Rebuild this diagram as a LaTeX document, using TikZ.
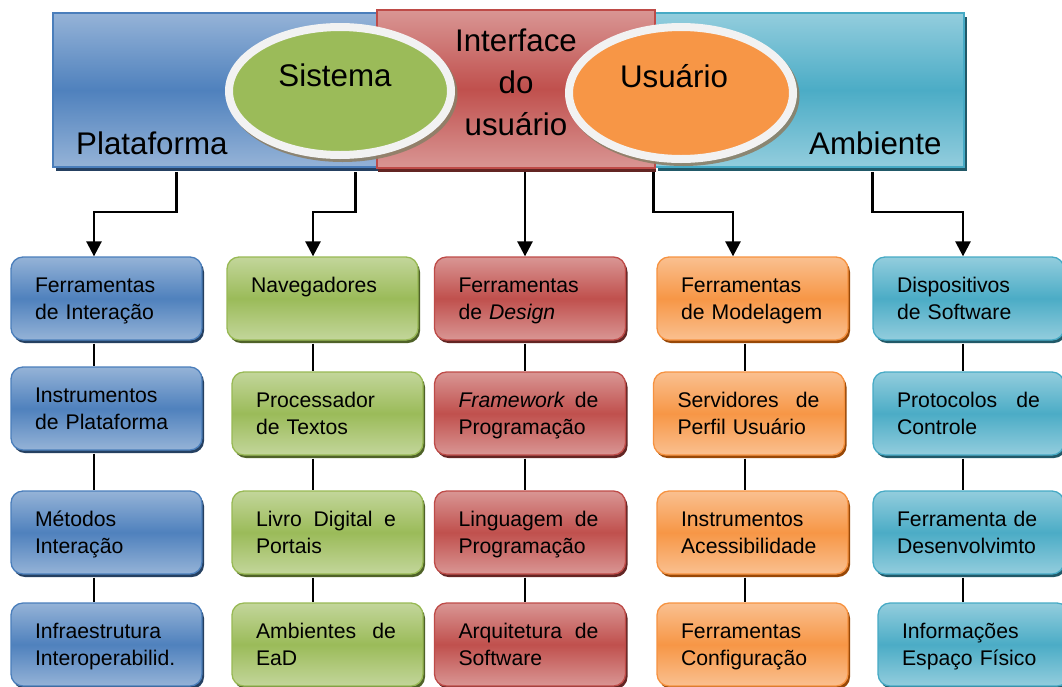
\documentclass[tikz,border=0pt]{standalone}
\usepackage{fontspec}
\setmainfont{Liberation Sans}
\usetikzlibrary{shapes.geometric,shadows,arrows.meta}
\definecolor{blueL}{HTML}{95B3D7}\definecolor{blueM}{HTML}{4F81BD}\definecolor{blueB}{HTML}{4A7EBB}\definecolor{blueS}{HTML}{254061}
\definecolor{greenL}{HTML}{C3D69B}\definecolor{greenM}{HTML}{9BBB59}\definecolor{greenB}{HTML}{98B954}\definecolor{greenS}{HTML}{4F6228}
\definecolor{redL}{HTML}{D99694}\definecolor{redM}{HTML}{C0504D}\definecolor{redB}{HTML}{BE4B48}\definecolor{redS}{HTML}{632523}
\definecolor{orangeL}{HTML}{FAC090}\definecolor{orangeM}{HTML}{F79646}\definecolor{orangeB}{HTML}{F69240}\definecolor{orangeS}{HTML}{984807}
\definecolor{tealL}{HTML}{93CDDD}\definecolor{tealM}{HTML}{4BACC6}\definecolor{tealB}{HTML}{46AAC5}\definecolor{tealS}{HTML}{215968}
\definecolor{ringW}{HTML}{F2F2F2}\definecolor{ellS}{HTML}{8C8068}
\newcommand{\myTop}{\rule{0pt}{19pt}}
\newcommand{\myBot}{\rule[-4.5pt]{0pt}{4.5pt}}
\newcommand{\jl}[1]{\makebox[#1]}
\begin{document}
\begin{tikzpicture}[x=1pt,y=-1pt,
  banner/.style={rectangle,line width=1.5pt,inner sep=0pt},
  bigtext/.style={font=\fontsize{31.3pt}{42pt}\selectfont,inner sep=0pt,text=black},
  oval/.style={ellipse,draw=ringW,line width=8pt,inner sep=0pt,
     drop shadow={shadow xshift=2.5pt,shadow yshift=-3pt,fill=ellS,draw=ellS,line width=8pt,opacity=0.9}},
  box/.style={rectangle,rounded corners=12pt,minimum width=191pt,minimum height=83pt,inner sep=0pt,
     text width=143pt,align=left,line width=1.3pt,font=\fontsize{21.2pt}{27.5pt}\selectfont,
     execute at begin node=\myTop, execute at end node=\myBot},
  bbox/.style={box,draw=blueB,top color=blueL,bottom color=blueL,middle color=blueM,
     drop shadow={shadow xshift=2pt,shadow yshift=-3pt,fill=blueS,opacity=1}},
  gbox/.style={box,draw=greenB,top color=greenL,bottom color=greenL,middle color=greenM,
     drop shadow={shadow xshift=2pt,shadow yshift=-3pt,fill=greenS,opacity=1}},
  rbox/.style={box,draw=redB,top color=redL,bottom color=redL,middle color=redM,
     drop shadow={shadow xshift=2pt,shadow yshift=-3pt,fill=redS,opacity=1}},
  obox/.style={box,draw=orangeB,top color=orangeL,bottom color=orangeL,middle color=orangeM,
     drop shadow={shadow xshift=2pt,shadow yshift=-3pt,fill=orangeS,opacity=1}},
  tbox/.style={box,draw=tealB,top color=tealL,bottom color=tealL,middle color=tealM,
     drop shadow={shadow xshift=2pt,shadow yshift=-3pt,fill=tealS,opacity=1}},
  conn/.style={draw=black,line width=2.6pt,-{Triangle[width=15pt,length=15pt]}},
  link/.style={draw=black,line width=1.6pt}
]
\useasboundingbox (0,0) rectangle (1062,686);
\begin{scope}
\clip (0,0) rectangle (1062,686);
% banner
\node[banner,draw=blueB,top color=blueL,bottom color=blueL,middle color=blueM,
  drop shadow={shadow xshift=3pt,shadow yshift=-4pt,fill=blueS,opacity=1},
  minimum width=325pt,minimum height=154pt] (plat) at (215.5,90) {};
\node[banner,draw=tealB,top color=tealL,bottom color=tealL,middle color=tealM,
  drop shadow={shadow xshift=3pt,shadow yshift=-4pt,fill=tealS,opacity=1},
  minimum width=309pt,minimum height=154pt] (amb) at (809.5,90) {};
\node[banner,draw=redB,top color=redL,bottom color=redL,middle color=redM,
  drop shadow={shadow xshift=1pt,shadow yshift=-4pt,fill=redS,opacity=1},
  minimum width=278pt,minimum height=158pt] (iface) at (516,89) {};
\node[oval,fill=greenM,minimum width=222pt,minimum height=128pt] (sis) at (340,91) {};
\node[oval,fill=orangeM,minimum width=224pt,minimum height=132pt] (usu) at (681,93) {};
\node[bigtext,anchor=base west] (tplat) at (76,154) {Plataforma};
\node[bigtext,anchor=base west] (tamb) at (809,154) {Ambiente};
\node[bigtext,anchor=base] (tsis) at (335,86) {Sistema};
\node[bigtext,anchor=base] (tusu) at (674,87) {Usuário};
\node[bigtext,align=center] (tif) at (516,82) {Interface\\do\\usuário};
% column 1
\node[bbox] (b11) at (106.5,298.5) {Ferramentas\\de Interação};
\node[bbox] (b12) at (106.5,408.5) {Instrumentos\\de Plataforma};
\node[bbox] (b13) at (106.5,532.5) {Métodos\\Interação};
\node[bbox] (b14) at (106.5,644.5) {Infraestrutura\\Interoperabilid.};
% column 2
\node[gbox] (b21) at (322.5,298.5) {Navegadores\\\mbox{}};
\node[gbox] (b22) at (327.5,413.5) {Processador\\de Textos};
\node[gbox] (b23) at (327.5,532.5) {\jl{140pt}{Livro\hfill Digital\hfill e}\\Portais};
\node[gbox] (b24) at (327.5,644.5) {\jl{140pt}{Ambientes\hfill de}\\EaD};
% column 3
\node[rbox] (b31) at (530,298.5) {Ferramentas\\de \textit{Design}};
\node[rbox] (b32) at (530,413.5) {\jl{140pt}{\textit{Framework}\hfill de}\\Programação};
\node[rbox] (b33) at (530,532.5) {\jl{140pt}{Linguagem\hfill de}\\Programação};
\node[rbox] (b34) at (530,644.5) {\jl{140pt}{Arquitetura\hfill de}\\Software};
% column 4
\node[obox] (b41) at (752.5,298.5) {Ferramentas\\de Modelagem};
\node[obox] (b42) at (749,413.5) {\jl{142pt}{Servidores\hfill de}\\Perfil Usuário};
\node[obox] (b43) at (752.5,532.5) {Instrumentos\\Acessibilidade};
\node[obox] (b44) at (752.5,644.5) {Ferramentas\\Configuração};
% column 5
\node[tbox] (b51) at (968.5,298.5) {Dispositivos\\de Software};
\node[tbox] (b52) at (968.5,413.5) {\jl{143pt}{Protocolos\hfill de}\\Controle};
\node[tbox] (b53) at (968.5,532.5) {Ferramenta de\\Desenvolvimto};
\node[tbox] (b54) at (973.5,644.5) {Informações\\Espaço Físico};
% connectors
\coordinate (k1) at (94,212);
\coordinate (k2) at (313,212);
\coordinate (k3) at (525,212);
\coordinate (k4) at (733,212);
\coordinate (k5) at (963,212);
\coordinate (v4) at (745,212);
\draw[conn] ([shift={(124pt,-4pt)}]plat.south west) |- (k1) -- (k1 |- b11.north);
\draw[conn] ([shift={(303pt,-4pt)}]plat.south west) |- (k2) -- (k2 |- b21.north);
\draw[conn] ([yshift=-3pt]k3 |- iface.south) -- (k3 |- b31.north);
\draw[conn] ([shift={(-1pt,-4pt)}]amb.south west) |- (k4) -- (k4 |- b41.north);
\draw[conn] ([shift={(218pt,-4pt)}]amb.south west) |- (k5) -- (k5 |- b51.north);
\draw[link] ([yshift=-3pt]k1 |- b11.south) -- (k1 |- b12.north);
\draw[link] ([yshift=-3pt]k1 |- b12.south) -- (k1 |- b13.north);
\draw[link] ([yshift=-3pt]k1 |- b13.south) -- (k1 |- b14.north);
\draw[link] ([yshift=-3pt]k2 |- b21.south) -- (k2 |- b22.north);
\draw[link] ([yshift=-3pt]k2 |- b22.south) -- (k2 |- b23.north);
\draw[link] ([yshift=-3pt]k2 |- b23.south) -- (k2 |- b24.north);
\draw[link] ([yshift=-3pt]k3 |- b31.south) -- (k3 |- b32.north);
\draw[link] ([yshift=-3pt]k3 |- b32.south) -- (k3 |- b33.north);
\draw[link] ([yshift=-3pt]k3 |- b33.south) -- (k3 |- b34.north);
\draw[link] ([yshift=-3pt]v4 |- b41.south) -- (v4 |- b42.north);
\draw[link] ([yshift=-3pt]v4 |- b42.south) -- (v4 |- b43.north);
\draw[link] ([yshift=-3pt]v4 |- b43.south) -- (v4 |- b44.north);
\draw[link] ([yshift=-3pt]k5 |- b51.south) -- (k5 |- b52.north);
\draw[link] ([yshift=-3pt]k5 |- b52.south) -- (k5 |- b53.north);
\draw[link] ([yshift=-3pt]k5 |- b53.south) -- (k5 |- b54.north);
\end{scope}
\end{tikzpicture}
\end{document}
